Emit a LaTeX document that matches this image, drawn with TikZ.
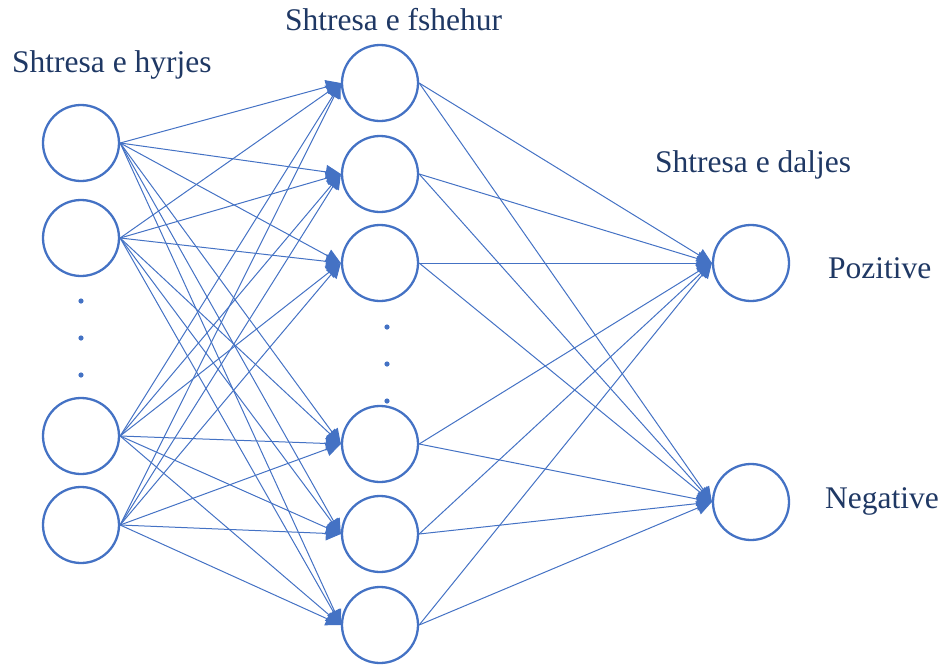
\documentclass[tikz,border=0pt]{standalone}
\usepackage{fontspec}
\setmainfont{Liberation Serif}
\usetikzlibrary{arrows.meta}
\definecolor{netblue}{HTML}{4472C4}
\definecolor{navytext}{HTML}{1F3864}
\begin{document}
\begin{tikzpicture}[x=1pt, y=-1pt,
        neuron/.style={circle, draw=netblue, line width=2.3pt, minimum size=76pt, inner sep=0pt},
        link/.style={draw=netblue, line width=1pt, -{Triangle[length=15pt, width=14pt]}},
        layertext/.style={anchor=base west, text=navytext, inner sep=0pt, font=\fontsize{31.5}{36}\selectfont}]
        \useasboundingbox (0,0) rectangle (940,667);
        % input layer
        \node[neuron] (in1) at (81,143) {};
        \node[neuron] (in2) at (81,238) {};
        \node[neuron] (in3) at (81,436) {};
        \node[neuron] (in4) at (81,525) {};
        % hidden layer
        \node[neuron] (hid1) at (380,83) {};
        \node[neuron] (hid2) at (380,174) {};
        \node[neuron] (hid3) at (380,263) {};
        \node[neuron] (hid4) at (380,444) {};
        \node[neuron] (hid5) at (380,534) {};
        \node[neuron] (hid6) at (380,625) {};
        % output layer
        \node[neuron] (out1) at (751,263) {};
        \node[neuron] (out2) at (751,502) {};
        % dots
        \foreach \y in {301,338,375} \fill[netblue] (81,\y) circle (2.6);
        \foreach \y in {327,364,401} \fill[netblue] (387,\y) circle (2.6);
        % connections
        \foreach \i in {1,...,4}
            \foreach \h in {1,...,6}
                \draw[link] (in\i.east) -- (hid\h.west);
        \foreach \h in {1,...,6}
            \foreach \o in {1,2}
                \draw[link] (hid\h.east) -- (out\o.west);
        % labels
        \node[layertext] (lblin) at (12,72) {Shtresa e hyrjes};
        \node[layertext] (lblhid) at (285,30) {Shtresa e fshehur};
        \node[layertext] (lblout) at (655,172) {Shtresa e daljes};
        \node[layertext] (lblpos) at (828,278) {Pozitive};
        \node[layertext] (lblneg) at (825,508) {Negative};
    \end{tikzpicture}
\end{document}
